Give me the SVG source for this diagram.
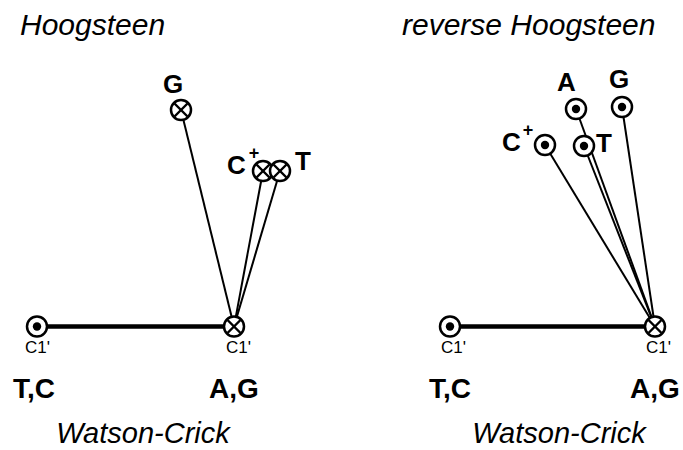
<svg xmlns="http://www.w3.org/2000/svg" width="683" height="450" viewBox="0 0 683 450">
  <style>
    .title { font-family: "Liberation Sans", Arial, sans-serif; font-style: italic; font-size: 30px; fill: #000; }
    .wclabel { font-family: "Liberation Sans", Arial, sans-serif; font-style: italic; font-size: 29px; fill: #000; text-anchor: middle; }
    .base { font-family: "Liberation Sans", Arial, sans-serif; font-weight: bold; font-size: 28px; fill: #000; text-anchor: middle; }
    .lbl { font-family: "Liberation Sans", Arial, sans-serif; font-weight: bold; font-size: 26px; fill: #000; }
    .plus { font-family: "Liberation Sans", Arial, sans-serif; font-weight: bold; font-size: 18px; fill: #000; text-anchor: middle; }
    .c1 { font-family: "Liberation Sans", Arial, sans-serif; font-size: 17px; fill: #000; }
    .bond { stroke: #000; stroke-width: 2; fill: none; }
    .wc { stroke: #000; stroke-width: 4.5; fill: none; }
    .ring { stroke: #000; stroke-width: 2.5; fill: #fff; }
    .cross { stroke: #000; stroke-width: 2.4; }
  </style>
  <defs>
    <!-- glycosidic bond pointing out of the plane -->
    <g id="dot">
      <circle class="ring" r="10"/>
      <circle r="4.2" fill="#000"/>
    </g>
    <!-- glycosidic bond pointing into the plane -->
    <g id="cross">
      <circle class="ring" r="10"/>
      <line class="cross" x1="-6.5" y1="-6.5" x2="6.5" y2="6.5"/>
      <line class="cross" x1="-6.5" y1="6.5" x2="6.5" y2="-6.5"/>
    </g>
  </defs>

  <!-- panel titles -->
  <text class="title" x="20" y="35">Hoogsteen</text>
  <text class="title" x="402" y="35">reverse Hoogsteen</text>

  <!-- connectors -->
  <g id="connectors">
    <line class="wc" x1="37" y1="326.5" x2="234" y2="326.5"/>
    <line class="bond" x1="181" y1="110" x2="234" y2="326.5"/>
    <line class="bond" x1="263" y1="171" x2="234" y2="326.5"/>
    <line class="bond" x1="280" y1="171" x2="234" y2="326.5"/>

    <line class="wc" x1="450" y1="326.5" x2="655" y2="326.5"/>
    <line class="bond" x1="545" y1="145" x2="655" y2="326.5"/>
    <line class="bond" x1="576" y1="109" x2="655" y2="326.5"/>
    <line class="bond" x1="584" y1="146" x2="655" y2="326.5"/>
    <line class="bond" x1="622" y1="107" x2="655" y2="326.5"/>
  </g>

  <!-- Hoogsteen panel -->
  <g id="wc-left-pyr">
    <use href="#dot" x="37" y="326.5"/>
    <text class="c1" x="25" y="353">C1'</text>
    <text class="base" x="34" y="398">T,C</text>
  </g>
  <g id="wc-left-pur">
    <use href="#cross" x="234" y="326.5"/>
    <text class="c1" x="226" y="353">C1'</text>
    <text class="base" x="234" y="398">A,G</text>
  </g>
  <g id="h-G">
    <use href="#cross" x="181" y="110"/>
    <text class="lbl" x="163" y="93">G</text>
  </g>
  <g id="h-C">
    <use href="#cross" x="263" y="171"/>
    <text class="lbl" x="227" y="174">C</text>
    <text class="plus" x="254" y="159">+</text>
  </g>
  <g id="h-T">
    <use href="#cross" x="280" y="171"/>
    <text class="lbl" x="295" y="170">T</text>
  </g>
  <text class="wclabel" x="143" y="443">Watson-Crick</text>

  <!-- reverse Hoogsteen panel -->
  <g id="wc-right-pyr">
    <use href="#dot" x="450" y="326.5"/>
    <text class="c1" x="441" y="353">C1'</text>
    <text class="base" x="450" y="398">T,C</text>
  </g>
  <g id="wc-right-pur">
    <use href="#cross" x="655" y="326.5"/>
    <text class="c1" x="646" y="353">C1'</text>
    <text class="base" x="655" y="398">A,G</text>
  </g>
  <g id="rh-C">
    <use href="#dot" x="545" y="145"/>
    <text class="lbl" x="502" y="151">C</text>
    <text class="plus" x="528" y="136">+</text>
  </g>
  <g id="rh-A">
    <use href="#dot" x="576" y="109"/>
    <text class="lbl" x="557" y="91">A</text>
  </g>
  <g id="rh-T">
    <use href="#dot" x="584" y="146"/>
    <text class="lbl" x="596" y="152">T</text>
  </g>
  <g id="rh-G">
    <use href="#dot" x="622" y="107"/>
    <text class="lbl" x="609" y="88">G</text>
  </g>
  <text class="wclabel" x="559" y="443">Watson-Crick</text>
</svg>
